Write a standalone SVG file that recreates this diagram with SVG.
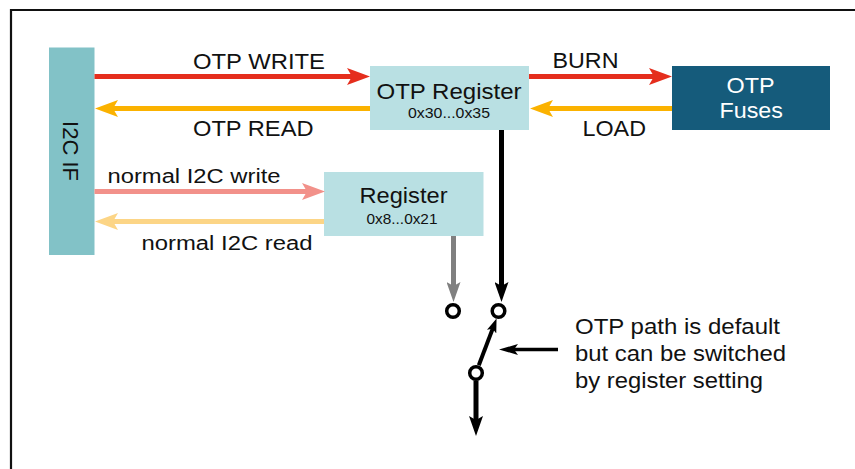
<svg xmlns="http://www.w3.org/2000/svg" width="855" height="469" viewBox="0 0 855 469">
<style>
text{font-family:"Liberation Sans",Arial,sans-serif;fill:#111}
.lbl{font-size:22px}
.sm{font-size:20px}
.hex{font-size:14.5px}
.ln{fill:none;stroke-linecap:butt}
</style>
<defs>
<marker id="arRed" markerUnits="userSpaceOnUse" markerWidth="23" markerHeight="17" refX="11" refY="8.5" orient="auto"><path d="M0,0 L23,8.5 L0,17 L5,8.5 Z" fill="#e52e1d"/></marker>
<marker id="arOrg" markerUnits="userSpaceOnUse" markerWidth="23" markerHeight="17" refX="11" refY="8.5" orient="auto"><path d="M0,0 L23,8.5 L0,17 L5,8.5 Z" fill="#fbb200"/></marker>
<marker id="arSal" markerUnits="userSpaceOnUse" markerWidth="23" markerHeight="17" refX="11" refY="8.5" orient="auto"><path d="M0,0 L23,8.5 L0,17 L5,8.5 Z" fill="#f2918a"/></marker>
<marker id="arLor" markerUnits="userSpaceOnUse" markerWidth="23" markerHeight="17" refX="11" refY="8.5" orient="auto"><path d="M0,0 L23,8.5 L0,17 L5,8.5 Z" fill="#fcd586"/></marker>
<marker id="arBlk" markerUnits="userSpaceOnUse" markerWidth="20" markerHeight="14" refX="8" refY="7" orient="auto"><path d="M0,0 L20,7 L0,14 L4,7 Z" fill="#000"/></marker>
<marker id="arGry" markerUnits="userSpaceOnUse" markerWidth="20" markerHeight="14" refX="8" refY="7" orient="auto"><path d="M0,0 L20,7 L0,14 L4,7 Z" fill="#808080"/></marker>
<marker id="arPtr" markerUnits="userSpaceOnUse" markerWidth="19" markerHeight="11" refX="7" refY="5.5" orient="auto"><path d="M0,0 L19,5.5 L0,11 L4,5.5 Z" fill="#000"/></marker>
<marker id="arSw" markerUnits="userSpaceOnUse" markerWidth="14" markerHeight="10" refX="4" refY="5" orient="auto"><path d="M0,0 L14,5 L0,10 L3,5 Z" fill="#000"/></marker>
</defs>
<rect width="855" height="469" fill="#fff"/>
<path d="M11,469 V10 H855" fill="none" stroke="#111" stroke-width="2.2"/>

<g id="i2cif">
<rect x="49" y="47.5" width="45.5" height="207.5" fill="#82c2c7"/>
<text class="lbl" transform="translate(63,151) rotate(90)" text-anchor="middle" font-size="23">I2C IF</text>
</g>

<g id="otpreg">
<rect x="370" y="66" width="159" height="64" fill="#b9e0e3"/>
<text class="lbl" x="376.5" y="98.5" font-size="23" textLength="145" lengthAdjust="spacingAndGlyphs">OTP Register</text>
<text class="hex" x="408" y="118" textLength="82" lengthAdjust="spacingAndGlyphs">0x30...0x35</text>
</g>

<g id="otpfuses">
<rect x="672" y="66" width="158" height="64" fill="#155b7b"/>
<text class="lbl" x="726.5" y="92.5" textLength="48" lengthAdjust="spacingAndGlyphs" style="fill:#fff">OTP</text>
<text class="lbl" x="719.5" y="118" textLength="63.5" lengthAdjust="spacingAndGlyphs" style="fill:#fff">Fuses</text>
</g>

<g id="register">
<rect x="324" y="172" width="159.5" height="64" fill="#b9e0e3"/>
<text class="lbl" x="359.5" y="202.5" textLength="88" lengthAdjust="spacingAndGlyphs">Register</text>
<text class="hex" x="366.5" y="223.5" textLength="71" lengthAdjust="spacingAndGlyphs">0x8...0x21</text>
</g>

<g id="switch">
<circle cx="453" cy="311" r="6.3" fill="#fff" stroke="#000" stroke-width="3.5"/>
<circle cx="498.5" cy="311" r="6.3" fill="#fff" stroke="#000" stroke-width="3.5"/>
<circle cx="476" cy="373" r="6.3" fill="#fff" stroke="#000" stroke-width="3.5"/>
</g>

<g id="note">
<text class="lbl" x="575" y="334" textLength="205" lengthAdjust="spacingAndGlyphs">OTP path is default</text>
<text class="lbl" x="575" y="361" textLength="211" lengthAdjust="spacingAndGlyphs">but can be switched</text>
<text class="lbl" x="575" y="387.5" textLength="188" lengthAdjust="spacingAndGlyphs">by register setting</text>
</g>

<g id="connectors">
<path class="ln" d="M94.5,76.5 H358" stroke="#e52e1d" stroke-width="5" marker-end="url(#arRed)"/>
<path class="ln" d="M370,108.5 H107" stroke="#fbb200" stroke-width="5" marker-end="url(#arOrg)"/>
<path class="ln" d="M529,76.5 H660" stroke="#e52e1d" stroke-width="5" marker-end="url(#arRed)"/>
<path class="ln" d="M672,108.5 H542" stroke="#fbb200" stroke-width="5" marker-end="url(#arOrg)"/>
<path class="ln" d="M94.5,191.5 H313" stroke="#f2918a" stroke-width="5" marker-end="url(#arSal)"/>
<path class="ln" d="M324,221.5 H107" stroke="#fcd586" stroke-width="5" marker-end="url(#arLor)"/>
<path class="ln" d="M453.5,236 V290" stroke="#808080" stroke-width="5" marker-end="url(#arGry)"/>
<path class="ln" d="M501.5,130 V290" stroke="#000" stroke-width="5" marker-end="url(#arBlk)"/>
<path class="ln" d="M478.8,365.2 L493,327.9" stroke="#000" stroke-width="4" marker-end="url(#arSw)"/>
<path class="ln" d="M476,380.5 V424" stroke="#000" stroke-width="5" marker-end="url(#arBlk)"/>
<path class="ln" d="M558,349.5 H511" stroke="#000" stroke-width="3.5" marker-end="url(#arPtr)"/>
<text class="lbl" x="193" y="68.5" textLength="132" lengthAdjust="spacingAndGlyphs">OTP WRITE</text>
<text class="lbl" x="193" y="136" textLength="120.5" lengthAdjust="spacingAndGlyphs">OTP READ</text>
<text class="lbl" x="552.5" y="68" textLength="66" lengthAdjust="spacingAndGlyphs">BURN</text>
<text class="lbl" x="582.5" y="136" textLength="63.5" lengthAdjust="spacingAndGlyphs">LOAD</text>
<text class="sm" x="107.5" y="182.5" textLength="173" lengthAdjust="spacingAndGlyphs">normal I2C write</text>
<text class="sm" x="141.5" y="249.5" textLength="171" lengthAdjust="spacingAndGlyphs">normal I2C read</text>
</g>
</svg>
